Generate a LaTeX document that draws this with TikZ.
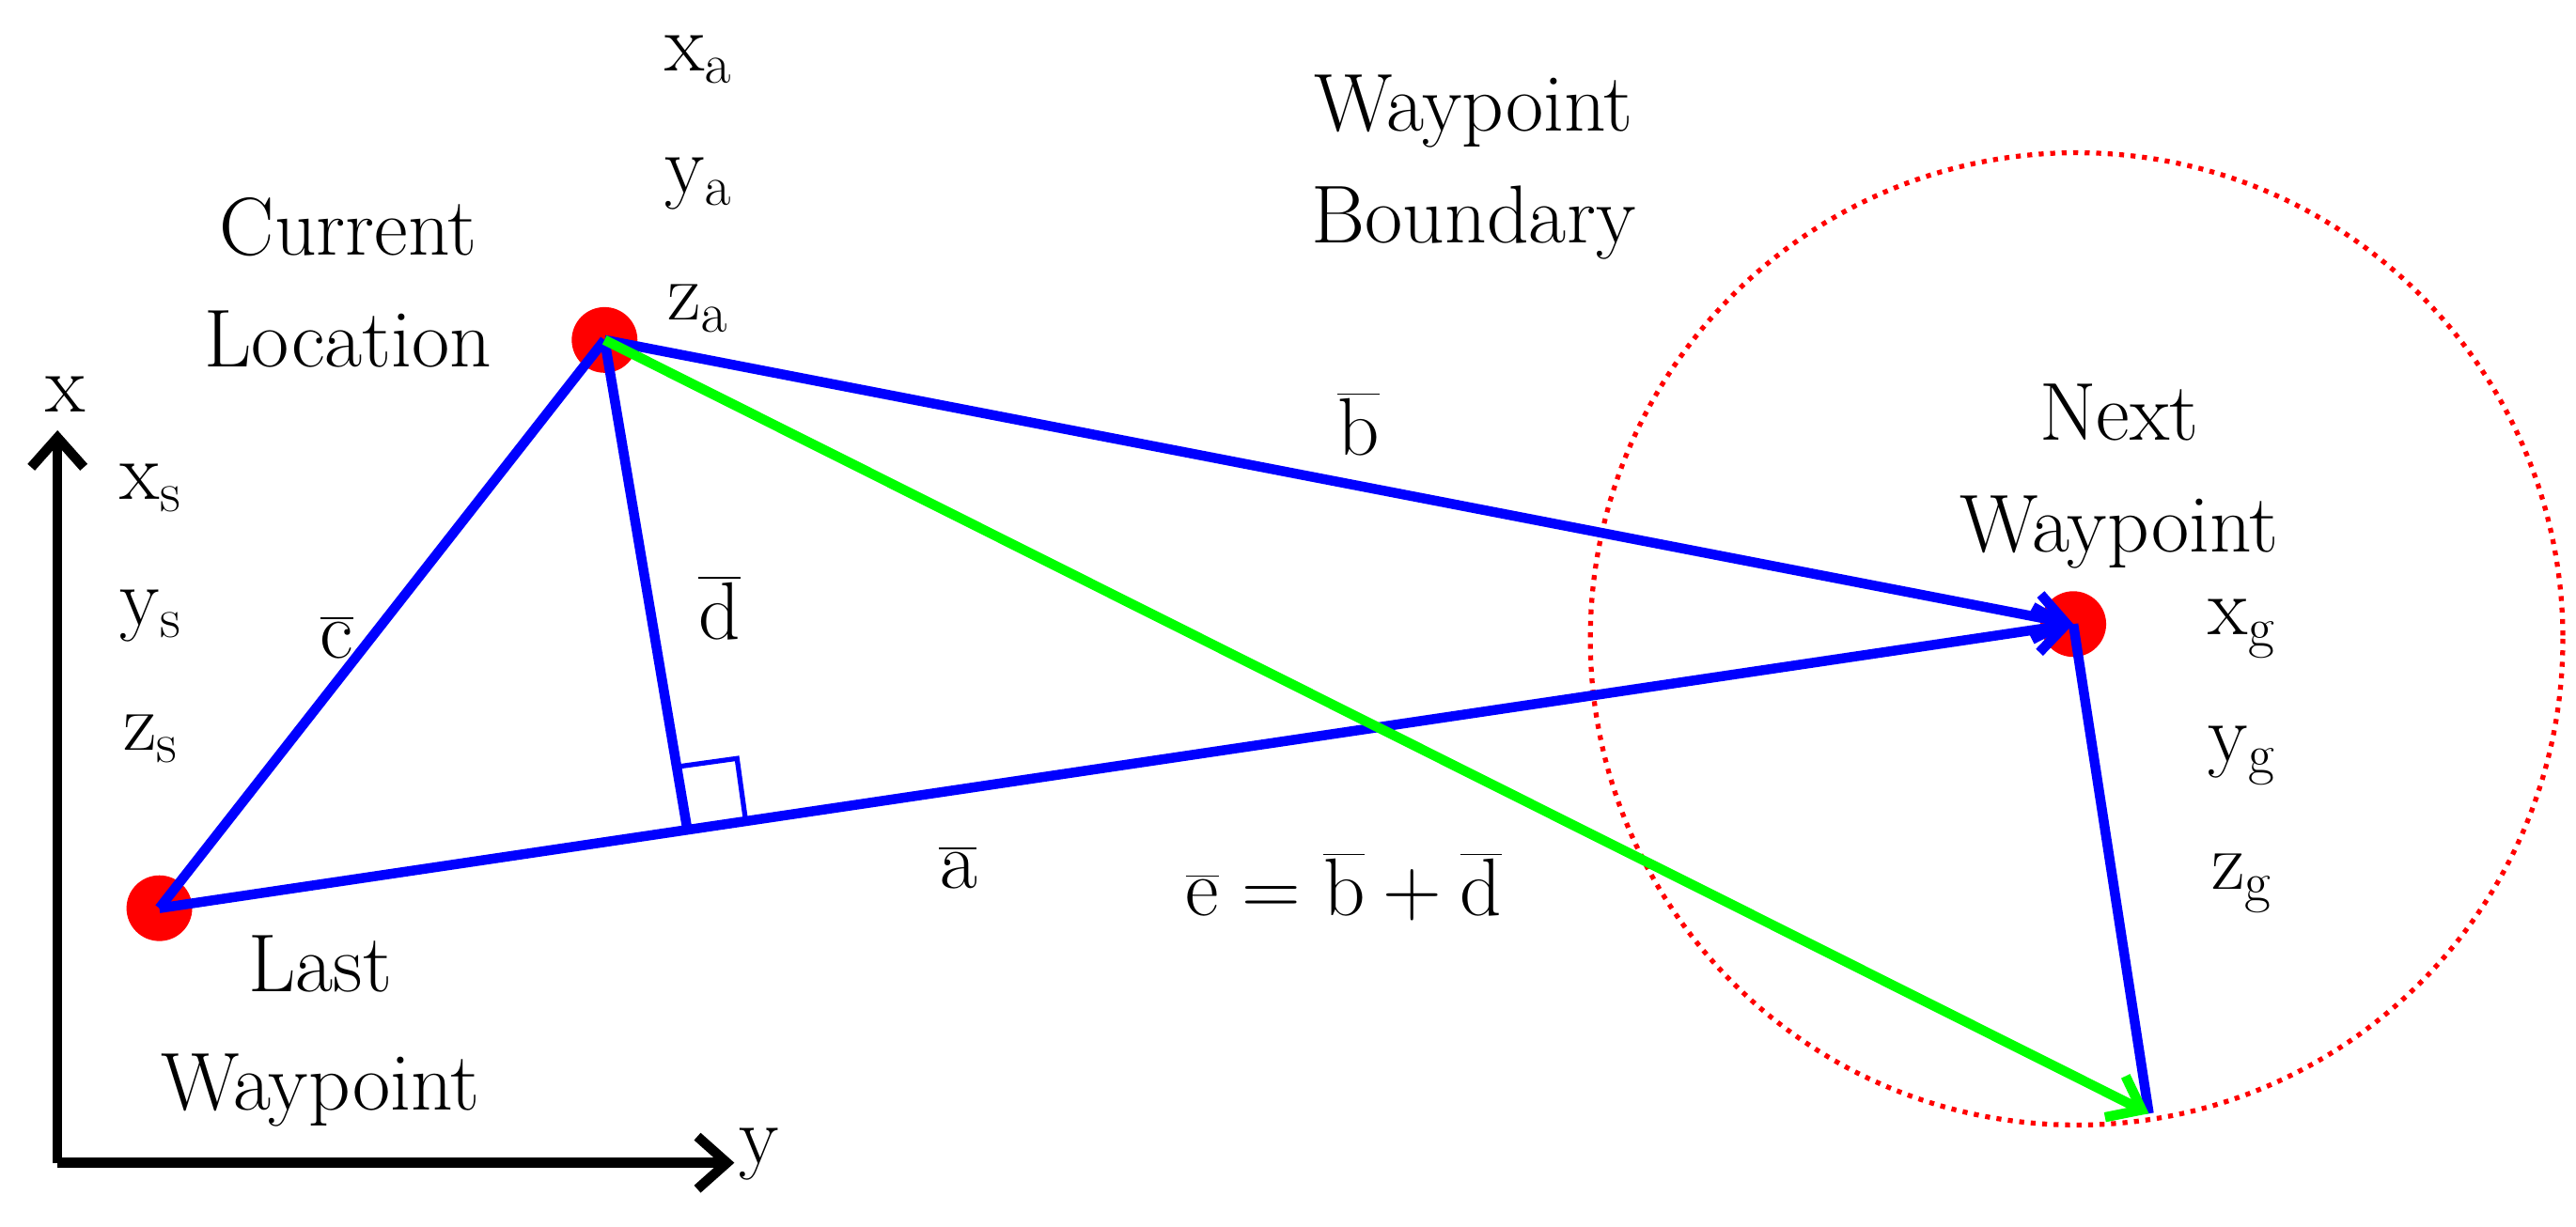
\documentclass[tikz,border=0pt]{standalone}
\usetikzlibrary{arrows.meta,calc}
\begin{document}
\begin{tikzpicture}[x=0.5pt,y=-0.5pt,
  lbl/.style={font=\fontsize{25}{30}\selectfont,align=center,inner sep=0pt},
  vec/.style={blue,line width=3pt},
  dot/.style={circle,fill=red,minimum size=20pt,inner sep=0pt},
  tip/.style={-{Straight Barb[length=9pt,width=14pt,line width=3pt]}}]
\useasboundingbox (0,0) rectangle (1568,747);
\node[dot] (L) at (97,553) {};
\node[dot] (C) at (368,207) {};
\node[dot] (N) at (1262,380) {};
\coordinate (G) at (1308,678);
\coordinate (F) at (418,503);
\coordinate (O) at (35,708);
\coordinate (XT) at (35,262);
\coordinate (YT) at (447,708);
\draw[red,dotted,line width=1.5pt] (1264,389) circle (296);
\draw[line width=3pt,-{Straight Barb[length=9pt,width=16pt,line width=3pt]}] (O) -- (XT);
\draw[line width=3pt,-{Straight Barb[length=9pt,width=16pt,line width=3pt]}] (O) -- (YT);
\draw[vec] (L.center) -- (C.center);
\draw[vec] (C.center) -- (F);
\draw[blue,line width=1.5pt] ($(F)!18pt!(N.center)$) -- ++(-5,-36) -- ++(-36,5);
\draw[vec,tip] (L.center) -- (N.center);
\draw[vec,tip] (C.center) -- (N.center);
\draw[vec] (N.center) -- (G);
\draw[green,line width=3pt,tip] (C.center) -- (G);
\node[lbl] (xl) at (40,240) {x};
\node[lbl] (yl) at (462,703) {y};
\node[lbl] (xs) at (92,297) {x$_\mathrm{s}$};
\node[lbl] (ys) at (92,375) {y$_\mathrm{s}$};
\node[lbl] (zs) at (92,450) {z$_\mathrm{s}$};
\node[lbl] (xa) at (425,36) {x$_\mathrm{a}$};
\node[lbl] (ya) at (425,112) {y$_\mathrm{a}$};
\node[lbl] (za) at (425,188) {z$_\mathrm{a}$};
\node[lbl] (xg) at (1365,383) {x$_\mathrm{g}$};
\node[lbl] (yg) at (1365,460) {y$_\mathrm{g}$};
\node[lbl] (zg) at (1365,538) {z$_\mathrm{g}$};
\node[lbl] (cl) at (212,172) {Current\\[4pt]Location};
\node[lbl] (lw) at (195,628) {Last\\[6pt]Waypoint};
\node[lbl] (wb) at (897,102) {Waypoint\\[4pt]Boundary};
\node[lbl] (nw) at (1290,290) {Next\\[4pt]Waypoint};
\node[lbl] (c) at (205,388) {$\overline{\mathrm{c}}$};
\node[lbl] (d) at (438,370) {$\overline{\mathrm{d}}$};
\node[lbl] (b) at (827,258) {$\overline{\mathrm{b}}$};
\node[lbl] (a) at (583,528) {$\overline{\mathrm{a}}$};
\node[lbl] (e) at (818,540) {$\overline{\mathrm{e}}=\overline{\mathrm{b}}+\overline{\mathrm{d}}$};
\end{tikzpicture}
\end{document}
